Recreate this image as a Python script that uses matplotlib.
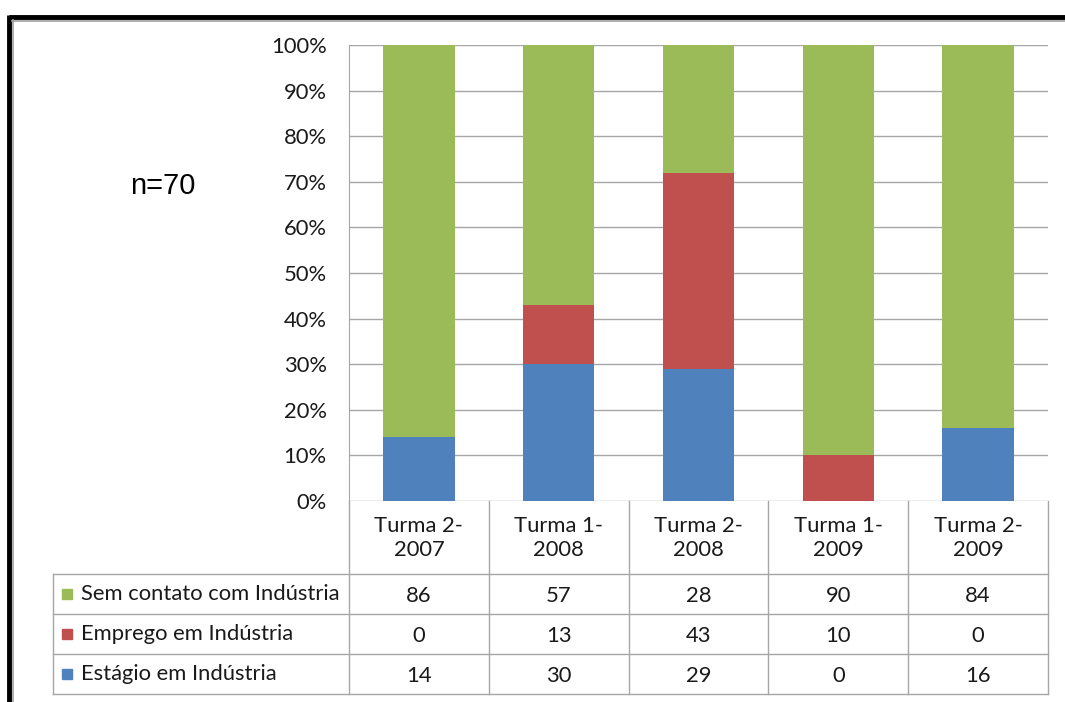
import numpy as np
import matplotlib.pyplot as plt
from matplotlib.patches import Rectangle
from matplotlib.ticker import PercentFormatter

# Chart data
turmas = ['Turma 2-\n2007', 'Turma 1-\n2008', 'Turma 2-\n2008', 'Turma 1-\n2009', 'Turma 2-\n2009']
series_names = ['Sem contato com Indústria', 'Emprego em Indústria', 'Estágio em Indústria']
sem_contato = [86, 57, 28, 90, 84]
emprego = [0, 13, 43, 10, 0]
estagio = [14, 30, 29, 0, 16]
note = 'n=70'

green = '#9BBB59'
red = '#C0504D'
blue = '#4F81BD'
grid_gray = '#A6A6A6'
font = 'Lato'
fsize = 15.8
txt_col = '#1a1a1a'

W, H = 1065, 702
fig = plt.figure(figsize=(W / 100, H / 100), dpi=100)


def fx(px):
    return px / W


def fy(py):
    return 1 - py / H


# Main bar axes
ax = fig.add_axes([fx(349), fy(501), fx(1048 - 349), fy(45) - fy(501)])
x = np.arange(len(turmas))
tot = np.array(sem_contato) + np.array(emprego) + np.array(estagio)
p_est = np.array(estagio) / tot * 100
p_emp = np.array(emprego) / tot * 100
p_sem = np.array(sem_contato) / tot * 100
ax.bar(x, p_est, width=0.51, color=blue, zorder=3)
ax.bar(x, p_emp, width=0.51, bottom=p_est, color=red, zorder=3)
ax.bar(x, p_sem, width=0.51, bottom=p_est + p_emp, color=green, zorder=3)
ax.set_xlim(-0.5, len(turmas) - 0.5)
ax.set_ylim(0, 100)
ax.set_yticks(np.arange(0, 101, 10))
ax.yaxis.set_major_formatter(PercentFormatter(decimals=0))
ax.grid(axis='y', color=grid_gray, linewidth=1.0, zorder=0)
ax.set_xticks([])
ax.tick_params(axis='y', length=0, pad=16, labelsize=fsize, labelcolor=txt_col)
for lab in ax.get_yticklabels():
    lab.set_family(font)
for side in ['top', 'right', 'bottom']:
    ax.spines[side].set_visible(False)
ax.spines['left'].set_color(grid_gray)

# Data table below the chart
tab = fig.add_axes([0, 0, 1, 1], facecolor='none')
tab.set_xlim(0, W)
tab.set_ylim(H, 0)
tab.axis('off')
col_edges = np.linspace(349, 1048, len(turmas) + 1)
row_edges = [574, 614, 654, 694]
lw = 1.0
for cx in col_edges:
    tab.plot([cx, cx], [501, 694], color=grid_gray, lw=lw)
tab.plot([53, 53], [574, 694], color=grid_gray, lw=lw)
for ry in row_edges:
    tab.plot([53, 1048], [ry, ry], color=grid_gray, lw=lw)
centers = (col_edges[:-1] + col_edges[1:]) / 2
for cx, lab in zip(centers, turmas):
    tab.text(cx, 537.5, lab, ha='center', va='center', fontsize=fsize,
             family=font, color=txt_col, linespacing=1.25)
rows = [sem_contato, emprego, estagio]
colors = [green, red, blue]
for i, (name, vals, c) in enumerate(zip(series_names, rows, colors)):
    yc = (row_edges[i] + row_edges[i + 1]) / 2
    tab.add_patch(Rectangle((62, yc - 5), 10, 10, color=c))
    tab.text(81, yc, name, ha='left', va='center', fontsize=fsize,
             family=font, color=txt_col)
    for cx, v in zip(centers, vals):
        tab.text(cx, yc + 2, str(v), ha='center', va='center', fontsize=fsize,
                 family=font, color=txt_col)

# n annotation
tab.text(130, 186, note, ha='left', va='center', fontsize=21,
         family='Liberation Sans', color='black')

# Frame lines (thick black top/left with thin gray inner line)
tab.plot([9, W], [17, 17], color='black', lw=3.5, solid_capstyle='butt')
tab.plot([9, 9], [15, H], color='black', lw=3.5, solid_capstyle='butt')
tab.plot([12, W], [20.5, 20.5], color='#A0A0A0', lw=1.2)
tab.plot([12.5, 12.5], [20, H], color='#A0A0A0', lw=1.2)

fig.savefig('out.png', dpi=100)
